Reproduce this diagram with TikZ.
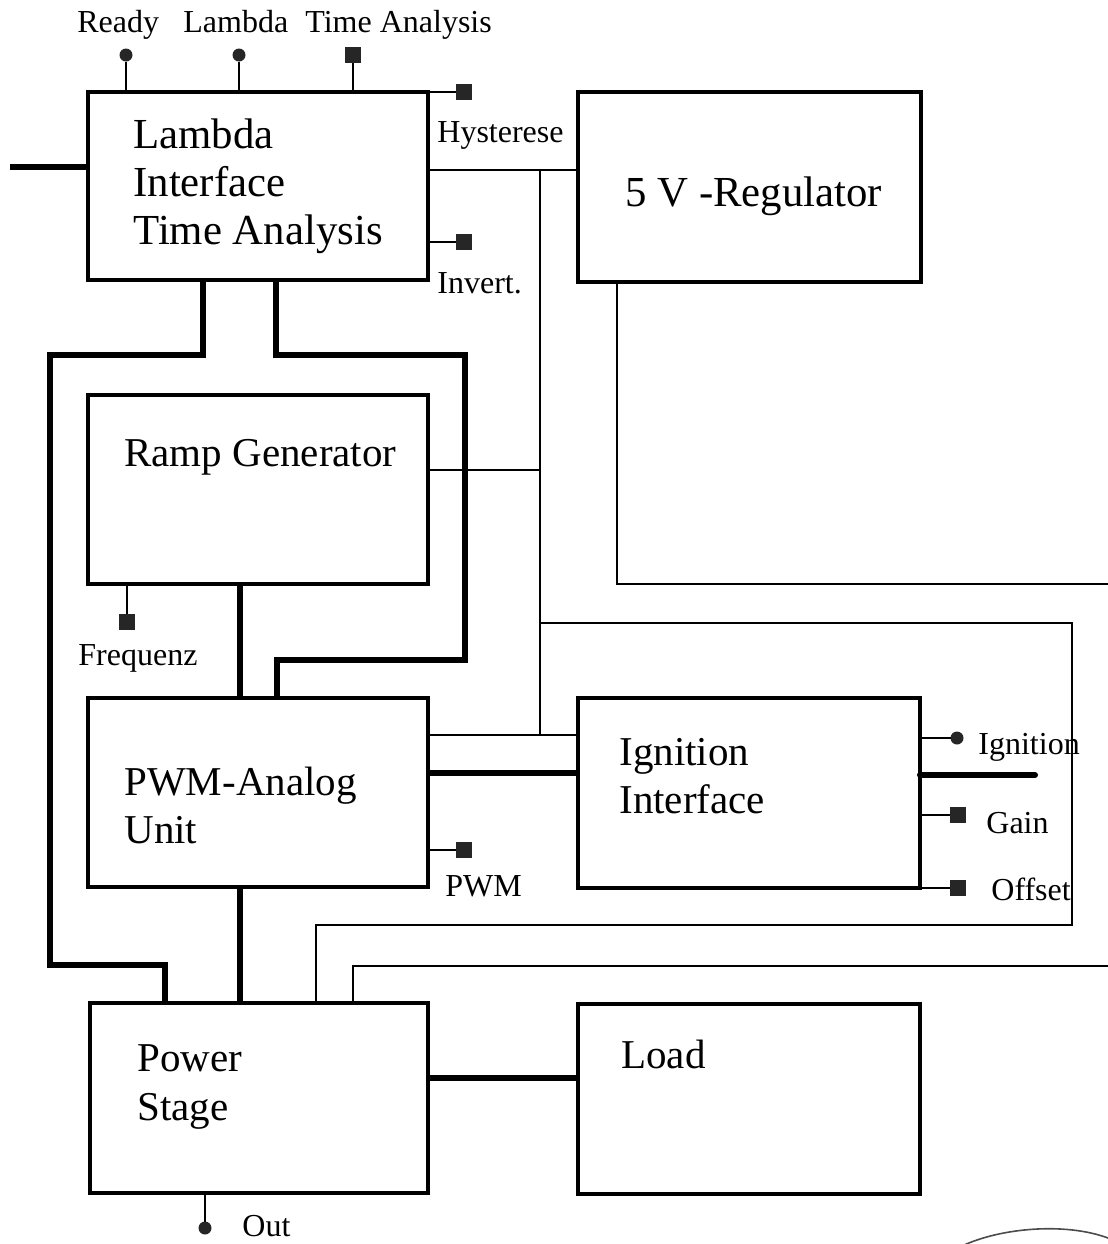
\documentclass[tikz,border=0pt]{standalone}
\usepackage{fontspec}
\setmainfont{Liberation Serif}
\begin{document}
\begin{tikzpicture}[x=0.5pt,y=-0.5pt,
  blk/.style={draw, line width=1.8pt, rectangle, inner sep=0pt, outer sep=0pt},
  thk/.style={line width=3pt},
  thn/.style={line width=1pt},
  sqpin/.style={rectangle, fill=black!85, minimum size=8pt, inner sep=0pt, outer sep=0pt},
  dotpin/.style={circle, fill=black!85, minimum size=6.5pt, inner sep=0pt, outer sep=0pt},
  bigtxt/.style={font=\fontsize{20.5}{24}\selectfont, anchor=base west, inner sep=0pt},
  lrgtxt/.style={font=\fontsize{21.4}{24}\selectfont, anchor=base west, inner sep=0pt},
  smltxt/.style={font=\fontsize{16}{19}\selectfont, anchor=base west, inner sep=0pt}]
\useasboundingbox (0,0) rectangle (1108,1244);

% blocks
\node[blk, minimum width=170pt, minimum height=94pt] (lam) at (258,186) {};
\node[blk, minimum width=171.5pt, minimum height=95pt] (reg) at (749.5,187) {};
\node[blk, minimum width=170pt, minimum height=94.5pt] (ramp) at (258,489.5) {};
\node[blk, minimum width=170pt, minimum height=94.5pt] (pwm) at (258,792.5) {};
\node[blk, minimum width=171pt, minimum height=95pt] (ign) at (749,793) {};
\node[blk, minimum width=169pt, minimum height=95pt] (pow) at (259,1098) {};
\node[blk, minimum width=171pt, minimum height=95pt] (load) at (749,1099) {};

% block texts
\node[lrgtxt] (lamt1) at (133,148) {Lambda};
\node[lrgtxt] (lamt2) at (133,196) {Interface};
\node[lrgtxt] (lamt3) at (133,244) {Time Analysis};
\node[lrgtxt] (regt) at (625,206) {5 V -Regulator};
\node[bigtxt] (rampt) at (124,466) {Ramp Generator};
\node[bigtxt] (pwmt1) at (124,795) {PWM-Analog};
\node[bigtxt] (pwmt2) at (124,843) {Unit};
\node[bigtxt] (ignt1) at (619,765) {Ignition};
\node[bigtxt] (ignt2) at (619,813) {Interface};
\node[bigtxt] (powt1) at (137,1071) {Power};
\node[bigtxt] (powt2) at (137,1120) {Stage};
\node[bigtxt] (loadt) at (621,1068) {Load};

% pin labels
\node[smltxt] (lrdy) at (77,32) {Ready};
\node[smltxt] (llam) at (183,32) {Lambda};
\node[smltxt] (lta) at (305,32) {Time Analysis};
\node[smltxt] (lhys) at (437,142) {Hysterese};
\node[smltxt] (linv) at (437,293) {Invert.};
\node[smltxt] (lfrq) at (78,665) {Frequenz};
\node[smltxt] (lpwm) at (445,896) {PWM};
\node[smltxt] (lign) at (978,754) {Ignition};
\node[smltxt] (lgain) at (986,833) {Gain};
\node[smltxt] (loff) at (991,900) {Offset};
\node[smltxt] (lout) at (242,1236) {Out};

% pins
\node[dotpin] (prdy) at (126,55) {};
\node[dotpin] (plam) at (239,55) {};
\node[sqpin] (pta) at (353,55) {};
\node[sqpin] (phys) at (464,92) {};
\node[sqpin] (pinv) at (464,242) {};
\node[sqpin] (pfrq) at (127,622) {};
\node[sqpin] (ppwm) at (464,850) {};
\node[dotpin] (pign) at (957,738) {};
\node[sqpin] (pgain) at (958,815) {};
\node[sqpin] (poff) at (958,888) {};
\node[dotpin] (pout) at (205,1228) {};

\draw[thn] (prdy) -- (prdy |- lam.north);
\draw[thn] (plam) -- (plam |- lam.north);
\draw[thn] (pta) -- (pta |- lam.north);
\draw[thn] (phys) -- (phys -| lam.east);
\draw[thn] (pinv) -- (pinv -| lam.east);
\draw[thn] (pfrq) -- (pfrq |- ramp.south);
\draw[thn] (ppwm) -- (ppwm -| pwm.east);
\draw[thn] (pign) -- (pign -| ign.east);
\draw[thn] (pgain) -- (pgain -| ign.east);
\draw[thn] (poff) -- (poff -| ign.east);
\draw[thn] (pout) -- (pout |- pow.south);

% free ends and bends
\coordinate (inL) at (10,167);
\coordinate (igR) at (1035,775);
\coordinate (j1) at (540,170);
\coordinate (j2) at (540,735);
\coordinate (j3) at (540,470);
\coordinate (j4) at (540,623);
\coordinate (c5) at (1072,623);
\coordinate (c6) at (1072,925);
\coordinate (c7) at (316,925);
\coordinate (c8) at (353,966);
\coordinate (c9) at (1108,966);
\coordinate (c10) at (617,584);
\coordinate (c11) at (1108,584);
\coordinate (t1) at (203,355);
\coordinate (t2) at (50,355);
\coordinate (t3) at (50,965);
\coordinate (t4) at (165,965);
\coordinate (t5) at (276,355);
\coordinate (t6) at (465,355);
\coordinate (t7) at (465,660);
\coordinate (t8) at (277,660);
\coordinate (t9) at (240,640);
\coordinate (t10) at (500,773);
\coordinate (t11) at (500,1078);

% thin connectors
\draw[thn] (j1 -| lam.east) -- (j1 -| reg.west);
\draw[thn] (j1) -- (j2);
\draw[thn] (j2 -| pwm.east) -- (j2 -| ign.west);
\draw[thn] (j3 -| ramp.east) -- (j3);
\draw[thn] (j4) -- (c5) -- (c6) -- (c7) -- (c7 |- pow.north);
\draw[thn] (c9) -- (c8) -- (c8 |- pow.north);
\draw[thn] (c10 |- reg.south) -- (c10) -- (c11);

% thick connectors
\draw[thk] (inL) -- (inL -| lam.west);
\draw[thk, line cap=round] (igR -| ign.east) -- (igR);
\draw[thk] (t1 |- lam.south) -- (t1) -- (t2) -- (t3) -- (t4) -- (t4 |- pow.north);
\draw[thk] (t5 |- lam.south) -- (t5) -- (t6) -- (t7) -- (t8) -- (t8 |- pwm.north);
\draw[thk] (t9 |- ramp.south) -- (t9 |- pwm.north);
\draw[thk] (t9 |- pwm.south) -- (t9 |- pow.north);
\draw[thk] (t10 -| pwm.east) -- (t10 -| ign.west);
\draw[thk] (t11 -| pow.east) -- (t11 -| load.west);

% partial stamp arc at the bottom edge
\draw[line width=0.8pt, black!70] (962,1246) .. controls (1000,1228) and (1065,1222) .. (1108,1238);
\end{tikzpicture}
\end{document}
